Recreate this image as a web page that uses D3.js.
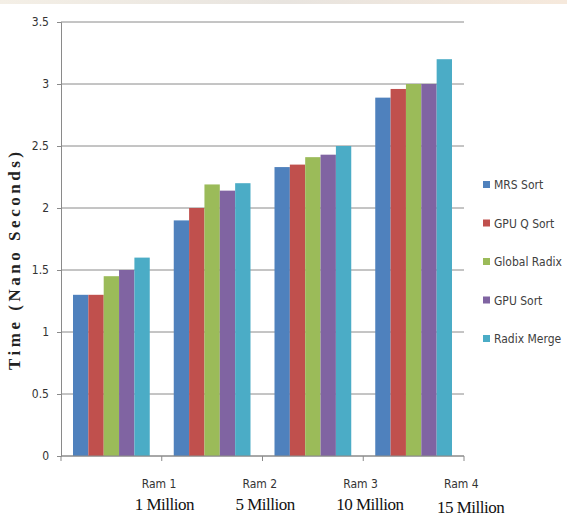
<!DOCTYPE html>
<html>
<head>
<meta charset="utf-8">
<script src="https://cdn.jsdelivr.net/npm/d3@7"></script>
<style>
  html, body { margin: 0; padding: 0; background: #fff; }
  svg { display: block; }
</style>
</head>
<body>
<div id="chart"></div>
<script>
// data
const categories = ["Ram 1", "Ram 2", "Ram 3", "Ram 4"];
const sizes = ["1 Million", "5 Million", "10 Million", "15 Million"];
const series = ["MRS Sort", "GPU Q Sort", "Global Radix", "GPU Sort", "Radix Merge"];
const mrsSort     = [1.3, 1.9, 2.33, 2.89];
const gpuQSort    = [1.3, 2.0, 2.35, 2.96];
const globalRadix = [1.45, 2.19, 2.41, 3.0];
const gpuSort     = [1.5, 2.14, 2.43, 3.0];
const radixMerge  = [1.6, 2.2, 2.5, 3.2];
const yTicks = [0, 0.5, 1, 1.5, 2, 2.5, 3, 3.5];

const colors = ["#4f81bd", "#c0504d", "#9bbb59", "#8064a2", "#4bacc6"];
const values = [mrsSort, gpuQSort, globalRadix, gpuSort, radixMerge];

const width = 567;
const height = 524;
const margin = { left: 61, top: 22, right: 103, bottom: 68 };

const svg = d3.select("#chart")
    .append("svg")
    .attr("width", width)
    .attr("height", height);

// faint beige strip along the top edge of the scan
const grad = svg.append("defs").append("linearGradient").attr("id", "topfade");
grad.append("stop").attr("offset", "0%").attr("stop-color", "#f4efe6");
grad.append("stop").attr("offset", "50%").attr("stop-color", "#e8e4df");
grad.append("stop").attr("offset", "100%").attr("stop-color", "#f6e9dc");
svg.append("rect")
    .attr("x", 0).attr("y", 0)
    .attr("width", width).attr("height", 4)
    .attr("fill", "url(#topfade)");

const x = d3.scaleBand()
    .domain(categories)
    .range([margin.left, width - margin.right]);

const xSub = d3.scaleBand()
    .domain(series)
    .range([12, x.bandwidth() - 12]);

const y = d3.scaleLinear()
    .domain([0, 3.5])
    .range([height - margin.bottom, margin.top]);

// gridlines
svg.selectAll(".grid")
    .data(yTicks)
    .join("line")
        .attr("class", "grid")
        .attr("x1", margin.left)
        .attr("x2", width - margin.right)
        .attr("y1", d => y(d))
        .attr("y2", d => y(d))
        .attr("stroke", "#8a8a8a")
        .attr("stroke-width", 1);

// bars
const rows = [];
categories.forEach((c, i) => {
    series.forEach((s, j) => {
        rows.push({ cat: c, series: s, value: values[j][i], color: colors[j] });
    });
});

svg.selectAll(".bar")
    .data(rows)
    .join("rect")
        .attr("class", "bar")
        .attr("x", d => x(d.cat) + xSub(d.series))
        .attr("y", d => y(d.value))
        .attr("width", xSub.bandwidth())
        .attr("height", d => y(0) - y(d.value))
        .attr("fill", d => d.color);

// y axis
const yAxis = svg.append("g")
    .attr("transform", `translate(${margin.left},0)`)
    .call(d3.axisLeft(y).tickValues(yTicks).tickSize(4).tickPadding(8).tickFormat(d => d));
yAxis.select(".domain").attr("stroke", "#8a8a8a");
yAxis.selectAll(".tick line").attr("stroke", "#8a8a8a");
yAxis.selectAll(".tick text")
    .style("font-family", "'Liberation Sans Narrow', 'DejaVu Sans Condensed', sans-serif")
    .style("font-size", "12px")
    .attr("fill", "#333");

// x axis line and tick marks at band boundaries
svg.append("line")
    .attr("x1", margin.left).attr("x2", width - margin.right)
    .attr("y1", y(0)).attr("y2", y(0))
    .attr("stroke", "#8a8a8a");

const bounds = [margin.left].concat(categories.map(c => x(c) + x.bandwidth()));
svg.selectAll(".xtick")
    .data(bounds)
    .join("line")
        .attr("class", "xtick")
        .attr("x1", d => d).attr("x2", d => d)
        .attr("y1", y(0)).attr("y2", y(0) + 5)
        .attr("stroke", "#8a8a8a");

// category labels sit just left of the band's right tick
svg.selectAll(".cat-label")
    .data(categories)
    .join("text")
        .attr("class", "cat-label")
        .attr("x", d => x(d) + x.bandwidth() - 20)
        .attr("y", height - 36)
        .style("font-family", "'Liberation Sans Narrow', 'DejaVu Sans Condensed', sans-serif")
        .style("font-size", "12px")
        .attr("fill", "#333")
        .text(d => d);

svg.selectAll(".size-label")
    .data(categories)
    .join("text")
        .attr("class", "size-label")
        .attr("x", d => x(d) + x.bandwidth() - 27)
        .attr("y", (d, i) => height - 14 + (i === 3 ? 3 : 0))
        .style("font-family", "'Liberation Serif', 'Times New Roman', serif")
        .style("font-size", "17px")
        .style("letter-spacing", "-0.5px")
        .attr("fill", "#111")
        .text((d, i) => sizes[i]);

// y axis title
svg.append("text")
    .attr("transform", `translate(20, ${(y(0) + y(3.5)) / 2 + 22}) rotate(-90)`)
    .attr("text-anchor", "middle")
    .attr("textLength", 218)
    .attr("lengthAdjust", "spacing")
    .style("font-family", "'Liberation Serif', 'Times New Roman', serif")
    .style("font-size", "17px")
    .style("font-weight", 700)
    .attr("fill", "#222")
    .text("Time (Nano Seconds)");

// legend
const legend = svg.selectAll(".legend")
    .data(series)
    .join("g")
        .attr("class", "legend")
        .attr("transform", (d, i) => `translate(483, ${185 + i * 38.5})`);

legend.append("rect")
    .attr("x", 0).attr("y", -4)
    .attr("width", 7).attr("height", 7)
    .attr("fill", (d, i) => colors[i]);

legend.append("text")
    .attr("x", 11)
    .attr("y", 4)
    .style("font-family", "'Liberation Sans Narrow', 'DejaVu Sans Condensed', sans-serif")
    .style("font-size", "12px")
    .attr("fill", "#404040")
    .text(d => d);
</script>
</body>
</html>
